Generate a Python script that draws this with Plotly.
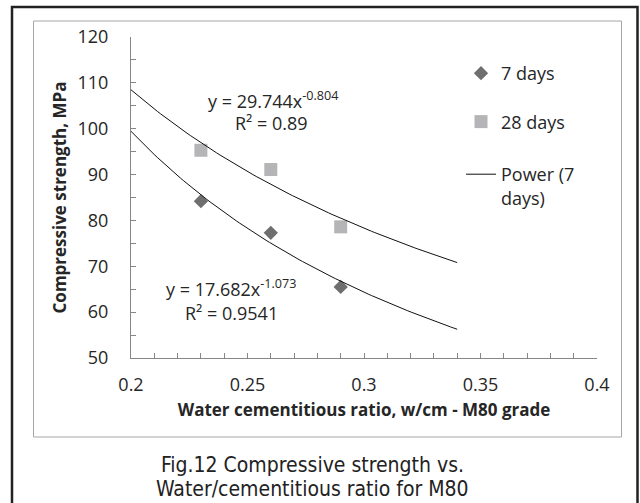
import plotly.graph_objects as go
import numpy as np

# Data
wcm = [0.23, 0.26, 0.29]
days7 = [84.2, 77.3, 65.5]
days28 = [95.3, 91.1, 78.6]

# Trendline coefficients (power fits shown on chart)
a7, b7 = 17.682, -1.073
a28, b28 = 29.744, -0.804
trend_range = [0.2, 0.34]

W, H = 640, 503
L, R, T, B = 131, 43, 37, 145
pw, ph = W - L - R, H - T - B

def px(x):
    return (x - L) / pw

def py(y):
    return (H - B - y) / ph

xt = np.linspace(trend_range[0], trend_range[1], 100)

fig = go.Figure()
fig.add_trace(go.Scatter(x=wcm, y=days7, mode="markers", name="7 days",
                         marker=dict(symbol="diamond", size=11, color="#6f6f6f"),
                         legendgroup="a"))
fig.add_trace(go.Scatter(x=wcm, y=days28, mode="markers", name="28 days",
                         marker=dict(symbol="square", size=13, color="#b5b5b8"),
                         legendgroup="b"))
fig.add_trace(go.Scatter(x=xt, y=a7 * xt ** b7, mode="lines", name="Power (7<br>days)",
                         line=dict(color="#111111", width=1), legend="legend2"))
fig.add_trace(go.Scatter(x=xt, y=a28 * xt ** b28, mode="lines", showlegend=False,
                         line=dict(color="#111111", width=1)))

tickfont = dict(family="Open Sans", size=18, color="#262626")
titlefont = dict(family="Open Sans", size=17, color="#262626", weight="bold")
fig.update_xaxes(range=[0.2, 0.4], dtick=0.05, tick0=0.2, ticks="inside", ticklen=5,
                 tickcolor="#868686", showline=True, linecolor="#868686", showgrid=False,
                 zeroline=False, tickfont=tickfont, ticklabelstandoff=10,
                 minor=dict(dtick=0.01, ticks="inside", ticklen=5, tickcolor="#868686"),
                 title=dict(text="Water cementitious ratio, w/cm - M80 grade",
                            font=titlefont, standoff=9))
fig.update_yaxes(range=[50, 120], dtick=10, ticks="inside", ticklen=5,
                 tickcolor="#868686", showline=True, linecolor="#868686", showgrid=False,
                 zeroline=False, tickfont=tickfont, ticklabelstandoff=18,
                 minor=dict(dtick=5, ticks="inside", ticklen=5, tickcolor="#868686"),
                 title=dict(text="Compressive strength, MPa",
                            font=titlefont, standoff=6))

annfont = dict(family="Open Sans", size=18, color="#262626")
anns = [
    ("y = 29.744x<sup>-0.804</sup>", 273, 100),
    ("R² = 0.89", 271, 123),
    ("y = 17.682x<sup>-1.073</sup>", 231, 288),
    ("R² = 0.9541", 231, 313),
]
for t, x, y in anns:
    fig.add_annotation(text=t, x=px(x), y=py(y), xref="paper", yref="paper",
                       showarrow=False, font=annfont, xanchor="center", yanchor="middle")

capfont = dict(family="DejaVu Sans Condensed, Roboto, sans-serif", size=21, color="#222222")
for t, y in [("Fig.12 Compressive strength vs.", 465), ("Water/cementitious ratio for M80", 489)]:
    fig.add_annotation(text=t, x=px(312), y=py(y), xref="paper", yref="paper", showarrow=False,
                       font=capfont, xanchor="center", yanchor="middle")

fig.add_shape(type="rect", xref="paper", yref="paper", x0=px(33.5), x1=px(621.5), y0=py(437), y1=py(21),
              line=dict(color="#a6a6a6", width=1), layer="below")
fig.add_shape(type="rect", xref="paper", yref="paper", x0=px(12), x1=px(637.5), y0=py(515), y1=py(7),
              line=dict(color="#222222", width=2.5), layer="below")

legfont = dict(family="Open Sans", size=18, color="#262626")
fig.update_layout(
    width=W, height=H, margin=dict(l=L, r=R, t=T, b=B),
    plot_bgcolor="white", paper_bgcolor="white",
    legend=dict(x=px(461), y=py(55), xanchor="left", yanchor="top", font=legfont,
                tracegroupgap=22, bgcolor="rgba(0,0,0,0)"),
    legend2=dict(x=px(461), y=py(156), xanchor="left", yanchor="top", font=legfont,
                 valign="top", bgcolor="rgba(0,0,0,0)"),
)

fig.write_html("out.html")
